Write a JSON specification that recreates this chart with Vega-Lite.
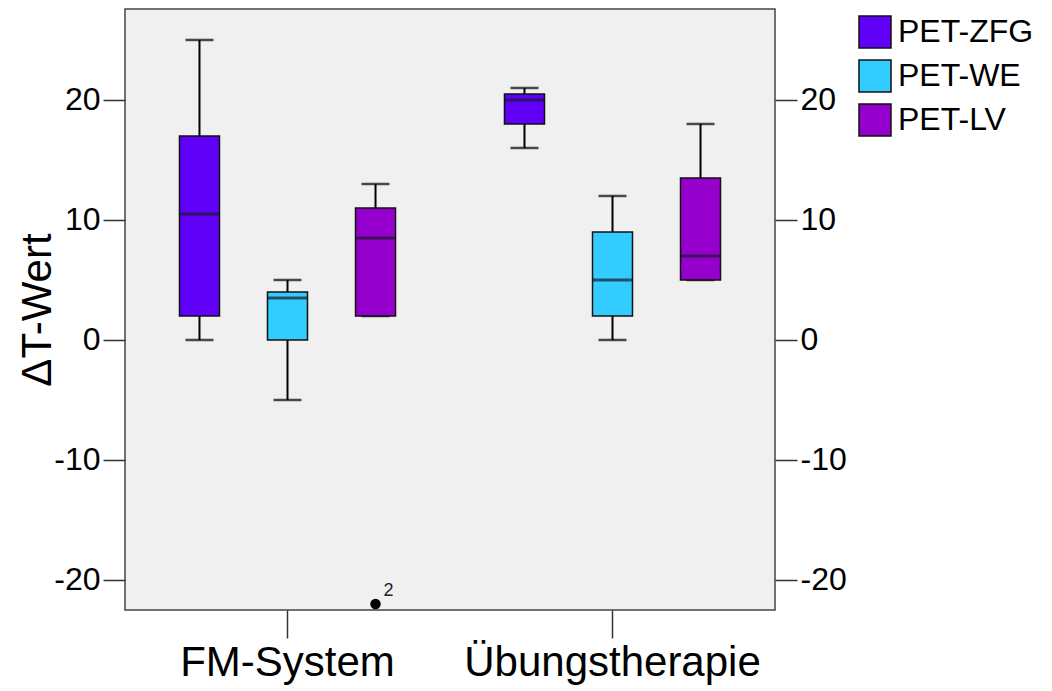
{
  "$schema": "https://vega.github.io/schema/vega-lite/v6.json",
  "autosize": "none",
  "width": 650,
  "height": 601,
  "padding": {"left": 125, "top": 9, "right": 277, "bottom": 81},
  "background": "white",
  "config": {
    "font": "Liberation Sans",
    "view": {"fill": "#f0f0f0", "stroke": "#444", "strokeWidth": 1.5},
    "axis": {"grid": false, "tickColor": "#333", "tickWidth": 1.5, "labelColor": "black", "titleColor": "black", "domain": false}
  },
  "datasets": {
    "boxes": [
      {"group": "FM-System", "series": "PET-ZFG", "lower": 0, "q1": 2, "median": 10.5, "q3": 17, "upper": 25},
      {"group": "FM-System", "series": "PET-WE", "lower": -5, "q1": 0, "median": 3.5, "q3": 4, "upper": 5},
      {"group": "FM-System", "series": "PET-LV", "lower": 2, "q1": 2, "median": 8.5, "q3": 11, "upper": 13},
      {"group": "Übungstherapie", "series": "PET-ZFG", "lower": 16, "q1": 18, "median": 20, "q3": 20.5, "upper": 21},
      {"group": "Übungstherapie", "series": "PET-WE", "lower": 0, "q1": 2, "median": 5, "q3": 9, "upper": 12},
      {"group": "Übungstherapie", "series": "PET-LV", "lower": 5, "q1": 5, "median": 7, "q3": 13.5, "upper": 18}
    ],
    "outliers": [
      {"group": "FM-System", "series": "PET-LV", "value": -22, "label": "2"}
    ]
  },
  "resolve": {"axis": {"y": "independent"}},
  "layer": [
    {
      "mark": {"type": "rule", "color": "#555", "strokeWidth": 1.5},
      "encoding": {
        "y": {"datum": 0, "type": "quantitative", "scale": {"domain": [-22.5, 27.58], "nice": false, "zero": false},
          "axis": {"orient": "left", "values": [-20, -10, 0, 10, 20], "labelExpr": "toString(datum.value)", "tickSize": 22, "labelFontSize": 32, "labelPadding": 3, "title": "ΔT-Wert", "titleFontSize": 42, "titleFontWeight": "normal", "titleX": -75, "titleBaseline": "alphabetic"}}
      }
    },
    {
      "mark": {"type": "rule", "color": "#555", "strokeWidth": 1.5, "opacity": 0},
      "encoding": {
        "y": {"datum": 0, "type": "quantitative",
          "axis": {"orient": "right", "values": [-20, -10, 0, 10, 20], "labelExpr": "toString(datum.value)", "tickSize": 22, "labelFontSize": 32, "labelPadding": 3, "title": null}}
      }
    },
    {
      "data": {"name": "boxes"},
      "mark": {"type": "rule", "color": "black", "strokeWidth": 2},
      "encoding": {
        "x": {"field": "group", "type": "nominal", "sort": ["FM-System", "Übungstherapie"], "scale": {"paddingInner": 0, "paddingOuter": 0},
          "axis": {"title": null, "labelAngle": 0, "tickSize": 28, "labelFontSize": 42, "labelPadding": 4, "labelLimit": 0}},
        "xOffset": {"field": "series", "type": "nominal", "sort": ["PET-ZFG", "PET-WE", "PET-LV"], "scale": {"paddingInner": 0.5455, "paddingOuter": 0.619}},
        "y": {"field": "lower", "type": "quantitative", "axis": null},
        "y2": {"field": "upper"}
      }
    },
    {
      "data": {"name": "boxes"},
      "mark": {"type": "tick", "color": "black", "thickness": 2.5, "size": 28},
      "encoding": {
        "x": {"field": "group", "type": "nominal", "sort": ["FM-System", "Übungstherapie"]},
        "xOffset": {"field": "series", "type": "nominal", "sort": ["PET-ZFG", "PET-WE", "PET-LV"]},
        "y": {"field": "upper", "type": "quantitative", "axis": null}
      }
    },
    {
      "data": {"name": "boxes"},
      "mark": {"type": "tick", "color": "black", "thickness": 2.5, "size": 28},
      "encoding": {
        "x": {"field": "group", "type": "nominal", "sort": ["FM-System", "Übungstherapie"]},
        "xOffset": {"field": "series", "type": "nominal", "sort": ["PET-ZFG", "PET-WE", "PET-LV"]},
        "y": {"field": "lower", "type": "quantitative", "axis": null}
      }
    },
    {
      "data": {"name": "boxes"},
      "mark": {"type": "bar", "stroke": "#111", "strokeWidth": 1.5},
      "encoding": {
        "x": {"field": "group", "type": "nominal", "sort": ["FM-System", "Übungstherapie"]},
        "xOffset": {"field": "series", "type": "nominal", "sort": ["PET-ZFG", "PET-WE", "PET-LV"]},
        "y": {"field": "q1", "type": "quantitative", "axis": null},
        "y2": {"field": "q3"},
        "fill": {"field": "series", "type": "nominal", "sort": ["PET-ZFG", "PET-WE", "PET-LV"],
          "scale": {"domain": ["PET-ZFG", "PET-WE", "PET-LV"], "range": ["#6000f8", "#33ccff", "#9600cc"]},
          "legend": {"title": null, "orient": "none", "legendX": 733, "legendY": 6, "symbolType": "square", "symbolSize": 1024, "symbolStrokeColor": "#111", "symbolStrokeWidth": 1.5, "labelFontSize": 32, "labelOffset": 6, "rowPadding": 6, "labelColor": "black", "labelLimit": 0}}
      }
    },
    {
      "data": {"name": "boxes"},
      "mark": {"type": "tick", "color": "#1a1a2a", "thickness": 3, "size": 40},
      "encoding": {
        "x": {"field": "group", "type": "nominal", "sort": ["FM-System", "Übungstherapie"]},
        "xOffset": {"field": "series", "type": "nominal", "sort": ["PET-ZFG", "PET-WE", "PET-LV"]},
        "y": {"field": "median", "type": "quantitative", "axis": null}
      }
    },
    {
      "data": {"name": "outliers"},
      "mark": {"type": "point", "filled": true, "color": "black", "opacity": 1, "size": 110},
      "encoding": {
        "x": {"field": "group", "type": "nominal", "sort": ["FM-System", "Übungstherapie"]},
        "xOffset": {"field": "series", "type": "nominal", "sort": ["PET-ZFG", "PET-WE", "PET-LV"]},
        "y": {"field": "value", "type": "quantitative", "axis": null}
      }
    },
    {
      "data": {"name": "outliers"},
      "mark": {"type": "text", "fontSize": 18, "align": "left", "baseline": "middle", "dx": 8, "dy": -13, "color": "#222"},
      "encoding": {
        "x": {"field": "group", "type": "nominal", "sort": ["FM-System", "Übungstherapie"]},
        "xOffset": {"field": "series", "type": "nominal", "sort": ["PET-ZFG", "PET-WE", "PET-LV"]},
        "y": {"field": "value", "type": "quantitative", "axis": null},
        "text": {"field": "label"}
      }
    }
  ]
}
